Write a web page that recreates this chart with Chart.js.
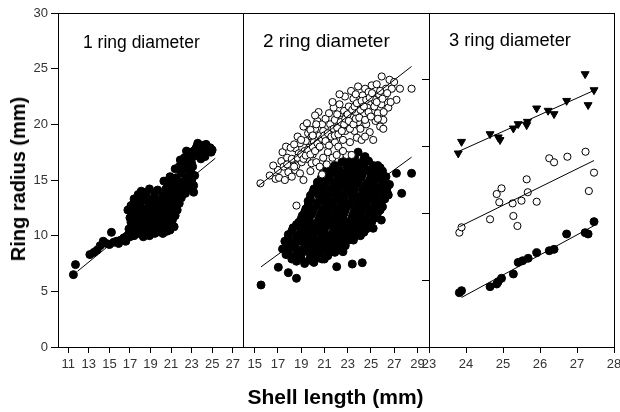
<!DOCTYPE html>
<html>
<head>
<meta charset="utf-8">
<script src="https://cdn.jsdelivr.net/npm/chart.js@4.4.0/dist/chart.umd.min.js"></script>
<style>
  body { margin: 0; background: #fff; }
  #wrap { position: relative; width: 620px; height: 412px; font-family: 'Liberation Sans', Arial, sans-serif; }
  canvas { position: absolute; left: 0; top: 0; }
  .lbl { position: absolute; white-space: nowrap; color: #000; }
</style>
</head>
<body>
<div id="wrap">
  <canvas id="c1" width="620" height="412"></canvas>
  <canvas id="c2" width="620" height="412"></canvas>
  <canvas id="c3" width="620" height="412"></canvas>
  <div class="lbl" style="left:83px;top:33.5px;font-size:17.5px;line-height:17.5px">1 ring diameter</div>
  <div class="lbl" style="left:263px;top:30.6px;font-size:19px;line-height:19px">2 ring diameter</div>
  <div class="lbl" style="left:449px;top:31.2px;font-size:18.3px;line-height:18.3px">3 ring diameter</div>
  <div class="lbl" style="left:335.5px;top:386px;font-size:21px;line-height:21px;font-weight:bold;transform:translateX(-50%)">Shell length (mm)</div>
  <div class="lbl" style="left:18px;top:179px;font-size:20px;line-height:20px;font-weight:bold;transform:translate(-50%,-50%) rotate(-90deg)">Ring radius (mm)</div>
</div>
<script>
// tick labels
const yTicks1 = [0, 5, 10, 15, 20, 25, 30];
const yTicks3 = [0, 6, 12, 18, 24, 30];   // unlabelled ticks on the 3rd panel
const xTicks1 = [11, 13, 15, 17, 19, 21, 23, 25, 27];
const xTicks2 = [15, 17, 19, 21, 23, 25, 27, 29];
const xTicks3 = [23, 24, 25, 26, 27, 28];

// panel 1 : first ring radius vs shell length  [shell length, radius]
const p1Ring1 = [
  [11.5,6.5],[11.7,7.4],[13.1,8.3],[13.5,8.5],[13.8,8.7],[14.1,9.1],[14.4,9.5],[14.7,9.3],[15.0,9.2],[15.2,10.3],
  [15.4,9.4],[15.7,9.5],[15.9,9.3],[16.1,9.6],[16.4,9.8],[16.6,9.5],[16.8,10.0],[17.0,9.9],
  [16.9,10.6],[17.1,11.2],[17.3,10.3],[17.5,10.9],[17.7,11.5],[17.8,10.2],[18.0,10.7],[18.2,11.3],[18.3,9.9],[18.5,10.5],
  [18.7,11.1],[18.9,10.0],[19.0,10.6],[19.2,11.4],[19.4,10.2],[19.5,10.9],[17.4,10.0],[18.6,11.6],[19.7,11.5],[19.8,10.4],
  [20.0,11.0],[20.2,10.2],[20.3,11.6],[20.5,10.7],[20.7,11.2],[20.9,10.5],[21.1,11.3],[21.3,10.8],[21.4,11.8],
  [17.0,10.3],[17.2,10.7],[17.6,10.5],[17.9,11.0],[18.1,10.4],[18.4,10.9],[18.8,10.4],[19.1,10.9],[19.3,10.6],[19.6,10.3],
  [19.9,10.7],[20.1,11.3],[20.4,10.9],[20.6,10.4],[20.8,10.9],[21.0,10.9],[21.2,11.6],[17.0,11.6],[17.4,11.7],[17.9,11.8],
  [18.4,11.7],[18.9,11.7],[19.4,11.8],[19.9,11.8],[20.4,12.0],[20.9,11.9],
  [16.8,12.3],[17.1,12.2],[17.3,12.8],[17.4,13.3],[17.6,12.0],[17.8,13.7],[18.0,12.6],[18.1,14.0],[18.3,13.2],[18.5,12.1],
  [18.6,13.9],[18.8,12.7],[18.9,14.2],[19.1,13.3],[19.3,12.1],[19.4,13.8],[19.6,12.6],[19.7,14.1],[19.9,13.1],[20.0,12.0],
  [20.2,13.6],[20.3,12.5],[20.5,14.2],[20.6,13.0],[20.8,12.2],[20.9,13.7],[21.1,12.6],[21.2,14.1],[21.4,13.1],[21.6,12.3],
  [21.8,12.9],[22.0,13.4],
  [17.1,12.7],[17.5,12.5],[17.7,13.2],[18.0,13.5],[18.2,12.4],[18.4,13.5],[18.7,13.2],[19.0,12.4],[19.2,12.9],[19.5,13.3],
  [19.8,12.4],[20.1,12.9],[20.4,13.3],[20.6,12.6],[20.8,13.4],[21.0,13.0],[21.3,12.7],[21.5,13.5],[21.7,13.9],
  [20.3,14.9],[20.7,14.85],[20.9,15.3],[21.2,14.6],[21.4,16.0],[21.5,15.2],[21.7,14.2],[21.9,16.8],[22.0,15.6],[22.1,14.7],
  [22.3,16.3],[22.4,13.8],[22.5,17.6],[22.6,15.2],[22.7,14.3],[22.8,16.7],[22.9,15.8],[23.0,14.9],[23.1,16.2],[23.2,13.9],
  [23.3,15.4],[23.2,17.1],[22.9,17.3],
  [21.9,14.8],[21.6,14.9],[22.2,14.1],[22.4,15.0],[22.6,14.7],[22.8,15.5],[23.0,15.3],[23.2,14.5],
  [21.8,16.2],[22.1,16.0],[22.3,17.0],[22.7,17.0],[22.6,16.0],[23.0,16.5],
  [23.4,17.8],[23.6,18.3],[23.8,17.5],[24.0,18.1],[24.2,17.7],[24.4,18.2],[24.6,17.6],[24.8,17.9],[25.0,17.7],[23.9,16.9],[24.3,17.1],
  [23.2,17.6],[23.5,18.0],[24.1,17.4],[24.5,17.9],[24.9,17.5]
];
const p1Fit = [[11.9,6.8],[25.3,16.95]];

// panel 2 : first and second ring radius
const p2Ring1 = [
  [18.6,7.7],[19.3,7.5],[20.1,7.6],[20.8,7.9],
  [18.2,7.9],[19.0,7.95],[19.7,7.8],[20.4,8.0],[21.0,7.9],
  [17.7,8.3],[18.4,8.1],[19.0,8.3],[19.8,8.2],[20.5,8.4],[21.3,8.2],[21.9,8.5],
  [17.9,8.6],[18.6,8.4],[19.3,8.6],[20.0,8.5],[20.7,8.6],[21.4,8.5],[22.1,8.7],
  [17.4,8.8],[18.2,9.0],[18.9,8.7],[19.6,8.9],[20.3,8.8],[21.0,9.0],[21.7,8.8],[22.4,9.0],
  [17.8,9.2],[18.5,9.0],[19.3,9.2],[20.0,9.1],[20.7,9.2],[21.4,9.1],[22.1,9.2],[22.8,9.1],
  [17.6,9.5],[18.3,9.3],[19.0,9.5],[19.7,9.3],[20.4,9.5],[21.1,9.4],[21.8,9.6],[22.5,9.3],[23.1,9.6],
  [17.9,9.8],[18.6,9.6],[19.4,9.8],[20.1,9.7],[20.8,9.8],[21.5,9.6],[22.2,9.8],[22.9,9.7],[23.6,9.9],
  [17.9,10.1],[18.6,9.9],[19.3,10.1],[20.0,10.0],[20.7,10.2],[21.4,9.9],[22.1,10.1],[22.8,10.0],[23.5,10.2],[24.1,10.0],
  [18.2,10.4],[18.9,10.2],[19.6,10.4],[20.3,10.3],[21.0,10.4],[21.7,10.2],[22.4,10.4],[23.1,10.3],[23.8,10.4],[24.4,10.3],
  [18.3,10.7],[19.0,10.5],[19.7,10.7],[20.4,10.6],[21.1,10.8],[21.8,10.5],[22.5,10.7],[23.2,10.6],[23.9,10.8],[24.6,10.6],
  [18.6,11.0],[19.3,10.8],[20.0,11.0],[20.7,10.9],[21.4,11.0],[22.1,10.8],[22.8,11.0],[23.5,10.9],[24.2,11.0],[24.9,10.9],
  [18.8,11.2],[19.5,11.3],[20.2,11.1],[20.9,11.3],[21.6,11.2],[22.3,11.4],[23.0,11.1],[23.7,11.3],[24.4,11.2],[25.1,11.3],
  [19.0,11.5],[19.7,11.6],[20.5,11.4],[21.2,11.6],[21.9,11.5],[22.6,11.6],[23.3,11.4],[24.0,11.6],[24.7,11.5],[25.4,11.6],
  [19.1,11.8],[19.9,11.9],[20.6,11.7],[21.3,11.9],[22.0,11.8],[22.7,12.0],[23.4,11.7],[24.1,11.9],[24.8,11.8],[25.5,11.9],
  [19.3,12.1],[20.0,12.2],[20.7,12.0],[21.4,12.2],[22.1,12.1],[22.8,12.3],[23.5,12.0],[24.2,12.2],[24.9,12.1],[25.6,12.1],
  [19.4,12.4],[20.1,12.5],[20.8,12.3],[21.5,12.5],[22.2,12.4],[22.9,12.6],[23.6,12.3],[24.3,12.5],[25.0,12.4],[25.8,12.3],
  [19.6,12.7],[20.4,12.8],[21.1,12.6],[21.8,12.8],[22.5,12.7],[23.2,12.8],[23.9,12.6],[24.6,12.8],[25.3,12.7],[26.0,12.6],
  [19.6,13.1],[20.3,12.9],[21.0,13.1],[21.7,13.0],[22.4,13.2],[23.1,12.9],[23.8,13.1],[24.5,13.0],[25.2,13.2],[25.9,13.0],
  [19.8,13.3],[20.6,13.4],[21.3,13.2],[22.0,13.4],[22.7,13.3],[23.4,13.5],[24.1,13.2],[24.8,13.4],[25.5,13.3],[26.2,13.3],
  [19.8,13.6],[20.5,13.7],[21.2,13.5],[21.9,13.7],[22.6,13.6],[23.3,13.8],[24.0,13.5],[24.7,13.7],[25.4,13.6],[26.1,13.7],
  [20.0,13.9],[20.8,14.0],[21.5,13.8],[22.2,14.0],[22.9,13.9],[23.6,14.1],[24.3,13.8],[25.0,14.0],[25.7,13.9],[26.4,13.9],
  [20.1,14.2],[20.8,14.3],[21.5,14.1],[22.2,14.3],[22.9,14.2],[23.6,14.4],[24.3,14.1],[25.0,14.3],[25.7,14.2],[26.4,14.3],
  [20.4,14.5],[21.1,14.6],[21.8,14.4],[22.5,14.6],[23.2,14.5],[23.9,14.7],[24.6,14.4],[25.3,14.6],[26.0,14.5],
  [20.4,14.8],[21.1,14.9],[21.8,14.7],[22.5,14.9],[23.2,14.8],[23.9,15.0],[24.6,14.7],[25.3,14.9],[26.0,14.8],
  [20.7,15.1],[21.4,15.2],[22.1,15.0],[22.8,15.2],[23.5,15.1],[24.2,15.3],[24.9,15.0],[25.6,15.2],[26.2,15.0],
  [20.8,15.4],[21.5,15.5],[22.2,15.3],[22.9,15.5],[23.6,15.4],[24.3,15.6],[25.0,15.3],[25.7,15.5],[26.3,15.3],
  [21.2,15.7],[21.9,15.8],[22.6,15.6],[23.3,15.8],[24.0,15.7],[24.7,15.9],[25.4,15.6],[26.0,15.8],
  [20.9,16.0],[21.6,16.1],[22.3,15.9],[23.0,16.1],[23.7,16.0],[24.4,16.2],[25.1,15.9],[25.8,16.1],
  [21.9,16.3],[22.9,16.4],[23.6,16.3],[24.4,16.4],[25.2,16.3],
  [22.5,16.6],[23.2,16.7],[24.0,16.5],[24.8,16.7],[25.6,16.3],
  [22.9,16.9],[23.6,17.0],[24.4,16.9],
  [23.3,17.2],[23.9,17.5],[24.5,17.1],
  [15.55,5.57],[17.04,7.16],[17.9,6.68],[18.6,6.17],[22.06,7.21],[23.4,7.45],[24.26,7.57],[28.5,15.6],[27.2,15.6],
  [27.65,13.8],[25.9,11.4],[25.2,10.66],[23.5,9.6],[22.6,8.56],[26.5,13.65],[26.6,14.6]
];
const p2Ring2 = [
  [15.5,14.7],[16.3,15.4],[16.8,15.1],[17.0,15.9],[16.6,16.3],[17.3,16.7],[17.1,15.2],
  [17.6,15.0],[17.5,16.2],[17.8,17.0],[17.9,15.7],[17.4,17.5],[17.7,18.0],
  [18.2,15.3],[18.5,15.9],[18.3,16.8],[18.5,17.85],[18.6,16.3],[18.8,17.4],[18.9,15.6],[18.9,18.3],[18.1,17.9],[18.7,18.9],
  [19.05,16.6],[19.2,15.0],[19.3,17.6],[19.4,18.5],[19.5,16.9],[19.6,19.2],[19.7,17.9],[19.8,15.8],[19.9,16.5],[19.9,18.9],
  [19.2,19.8],[19.5,20.1],
  [20.0,17.3],[20.1,18.4],[20.2,19.6],[20.3,16.6],[20.4,20.3],[20.5,21.1],[20.5,17.9],[20.6,19.0],[20.7,18.5],[20.8,15.5],
  [20.8,20.0],[20.9,17.0],[20.9,19.4],[20.2,20.8],[20.6,16.2],
  [21.0,18.2],[21.1,20.5],[21.2,19.1],[21.3,17.5],[21.4,21.0],[21.5,18.8],[21.5,20.0],[21.6,19.5],[21.7,17.0],[21.8,21.5],
  [21.9,18.4],[21.9,20.4],[21.2,16.4],[21.7,22.0],
  [22.0,19.3],[22.06,17.25],[22.1,20.9],[22.2,18.0],[22.3,21.8],[22.4,19.8],[22.5,20.4],[22.6,18.6],[22.7,21.2],[22.77,22.5],
  [22.8,19.4],[22.9,17.25],[22.9,20.8],[22.3,22.7],[22.6,17.6],
  [23.0,19.9],[23.1,21.6],[23.2,18.4],[23.35,17.25],[23.4,20.6],[23.5,22.3],[23.6,19.4],[23.7,21.1],[23.8,18.8],[23.9,23.4],
  [23.9,20.2],[23.3,23.0],[23.7,22.7],
  [24.0,21.8],[24.1,19.6],[24.2,18.6],[24.3,22.6],[24.4,20.9],[24.5,23.2],[24.6,20.0],[24.7,21.5],[24.8,22.9],[24.9,19.3],[24.5,18.9],
  [25.07,23.5],[25.1,21.2],[25.2,18.6],[25.3,22.2],[25.4,20.3],[25.5,23.6],[25.6,21.0],[25.7,22.7],[25.8,19.8],[25.93,24.3],[25.9,21.8],
  [26.07,20.4],[26.07,19.6],[26.2,22.5],[26.3,23.2],[26.5,21.5],[26.8,23.2],[27.2,22.2],[27.5,23.2],[28.5,23.2],[26.6,24.0],[27.0,23.8],
  [17.8,16.4],[18.2,16.9],[18.4,16.2],[18.7,17.0],[19.0,17.3],[19.2,16.9],[19.4,17.2],[19.6,17.7],[19.8,17.3],[20.0,18.0],
  [20.2,17.6],[20.4,18.3],[20.6,18.0],[20.8,18.7],[21.0,19.0],[21.1,18.5],[21.3,19.2],[21.4,18.1],[21.6,18.9],[21.8,19.6],
  [21.9,19.0],[22.1,19.7],[22.2,19.1],[22.4,20.2],[22.5,19.4],[22.7,20.0],[22.8,20.5],[23.0,20.9],[23.1,20.3],[23.2,19.6],
  [23.4,21.3],[23.5,20.0],[23.6,21.6],[23.7,20.5],[23.8,21.9],[24.0,20.6],[24.1,21.3],[24.2,22.1],[24.4,21.6],[24.5,20.4],
  [24.6,22.2],[24.8,21.1],[24.9,22.4],[25.0,20.7],[25.1,22.8],[25.3,21.6],[25.5,22.0],[25.6,20.5],[25.8,23.0],[26.0,22.3],
  [26.1,21.1],[26.4,22.8],[26.7,22.0],[19.8,19.5],[20.3,20.0],[20.0,19.0],[19.0,18.6],[18.4,18.2],
  [18.6,12.7]
];
const p2Fit1 = [[15.55,7.2],[28.5,17.05]];
const p2Fit2 = [[15.3,14.45],[28.5,25.2]];

// panel 3 : first, second and third ring radius
const p3Ring1 = [
  [23.82,4.88],[23.88,5.06],[24.65,5.42],[24.83,5.66],[24.87,5.87],[24.96,6.17],[25.28,6.56],[25.41,7.6],[25.53,7.75],
  [25.68,7.97],[25.91,8.47],[26.25,8.65],[26.38,8.77],[26.72,10.15],[27.22,10.27],[27.3,10.15],[27.46,11.26]
];
const p3Ring2 = [
  [23.82,10.27],[23.88,10.75],[24.65,11.47],[24.83,13.74],[24.96,14.25],[24.9,13.0],[25.26,12.9],[25.28,11.77],[25.39,10.87],
  [25.5,13.14],[25.67,13.9],[25.64,15.06],[25.91,13.05],[26.25,16.95],[26.38,16.59],[26.74,17.09],[27.23,17.54],[27.32,14.01],[27.46,15.66]
];
const p3Ring3 = [
  [23.88,18.44],[23.79,17.4],[24.65,19.13],[24.87,18.84],[24.92,18.6],[25.28,19.64],[25.41,20.03],[25.66,20.24],[25.64,19.94],
  [25.91,21.44],[26.22,21.23],[26.38,20.93],[26.72,22.12],[27.22,24.52],[27.3,21.74],[27.46,23.08]
];
const p3Fit1 = [[23.88,4.45],[27.46,10.9]];
const p3Fit2 = [[23.82,10.8],[27.46,16.75]];
const p3Fit3 = [[23.79,17.55],[27.53,23.15]];

const font = "'Liberation Sans', Arial, sans-serif";

function pts(arr) {
  return arr.map(p => ({x: p[0], y: p[1]}));
}

function filled(arr) {
  return {data: pts(arr), pointStyle: 'circle', pointRadius: 4, pointHoverRadius: 4,
    pointBackgroundColor: '#000', pointBorderColor: '#000', pointBorderWidth: 1, order: 2};
}
function hollow(arr) {
  return {data: pts(arr), pointStyle: 'circle', pointRadius: 3.6, pointHoverRadius: 3.6,
    pointBackgroundColor: '#fff', pointBorderColor: '#000', pointBorderWidth: 1, order: 1};
}
function tri(arr) {
  return {data: pts(arr), pointStyle: 'triangle', pointRotation: 180, pointRadius: 4.6, pointHoverRadius: 4.6,
    pointBackgroundColor: '#000', pointBorderColor: '#000', pointBorderWidth: 1, order: 1};
}
function fit(arr) {
  return {data: pts(arr), showLine: true, pointRadius: 0, borderColor: '#000', borderWidth: 1, order: 0};
}

// box around each panel
const frame = {
  id: 'frame',
  afterDatasetsDraw(chart) {
    const a = chart.chartArea, ctx = chart.ctx;
    ctx.save();
    ctx.strokeStyle = '#000';
    ctx.lineWidth = 1;
    ctx.strokeRect(Math.round(a.left) + 0.5, Math.round(a.top) + 0.5,
      Math.round(a.right - a.left), Math.round(a.bottom - a.top));
    ctx.restore();
  }
};

function fixTicks(list) {
  return scale => { scale.ticks = list.map(v => ({value: v})); };
}

function panel(id, cfg) {
  const tickFont = {family: font, size: 13};
  return new Chart(document.getElementById(id), {
    type: 'scatter',
    data: {datasets: cfg.datasets},
    options: {
      responsive: false,
      animation: false,
      devicePixelRatio: 1,
      layout: {padding: {left: cfg.left, right: cfg.right, top: 13, bottom: 0}},
      plugins: {legend: {display: false}, tooltip: {enabled: false}},
      scales: {
        x: {
          type: 'linear', position: 'bottom', min: cfg.xMin, max: cfg.xMax,
          afterBuildTicks: fixTicks(cfg.xTicks),
          afterFit: s => { s.height = 65; s.paddingLeft = 0; s.paddingRight = 0; },
          grid: {drawOnChartArea: false, drawTicks: true, tickLength: 6, color: '#000'},
          border: {display: false},
          ticks: {font: tickFont, color: '#333', padding: 4, maxRotation: 0, autoSkip: false}
        },
        y: {
          type: 'linear', position: 'left', min: 0, max: 30,
          display: cfg.yShow,
          afterBuildTicks: fixTicks(cfg.yTicks),
          afterFit: s => { s.width = cfg.yWidth; s.paddingTop = 0; s.paddingBottom = 0; },
          grid: {drawOnChartArea: false, drawTicks: true, tickLength: 7, color: '#000'},
          border: {display: false},
          ticks: {display: cfg.yLabels, font: tickFont, color: '#333', padding: 3, autoSkip: false}
        }
      }
    },
    plugins: [frame]
  });
}

panel('c1', {
  left: 18, right: 377, xMin: 10, xMax: 28, xTicks: xTicks1,
  yShow: true, yLabels: true, yTicks: yTicks1, yWidth: 40,
  datasets: [fit(p1Fit), filled(p1Ring1)]
});

panel('c2', {
  left: 243, right: 191, xMin: 14, xMax: 30, xTicks: xTicks2,
  yShow: false, yLabels: false, yTicks: yTicks1, yWidth: 0,
  datasets: [fit(p2Fit1), fit(p2Fit2), hollow(p2Ring2), filled(p2Ring1)]
});

panel('c3', {
  left: 429, right: 6, xMin: 23, xMax: 28, xTicks: xTicks3,
  yShow: true, yLabels: false, yTicks: yTicks3, yWidth: 0,
  datasets: [fit(p3Fit1), fit(p3Fit2), fit(p3Fit3), tri(p3Ring3), hollow(p3Ring2), filled(p3Ring1)]
});
</script>
</body>
</html>
